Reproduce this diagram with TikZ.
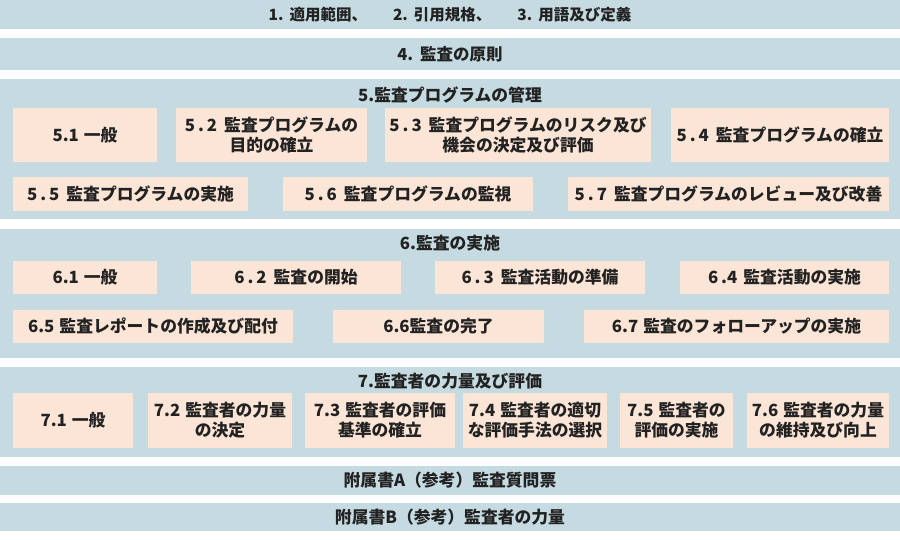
\documentclass[tikz,border=0pt]{standalone}
\usepackage{fontspec}
\setmainfont{Noto Sans CJK JP}
\definecolor{bandblue}{RGB}{197,218,225}
\definecolor{peach}{RGB}{251,229,214}
\definecolor{ink}{RGB}{34,34,34}
\newcommand{\spn}[2]{#1\kern3pt.\kern3pt#2\kern7pt}
\newcommand{\nmn}[2]{#1.#2\kern5pt}
\tikzset{
  band/.style={fill=bandblue, draw=none, inner sep=0pt, minimum width=900pt},
  sub/.style={fill=peach, draw=none, inner sep=0pt, align=center, text=ink,
    font=\fontsize{16.8}{20}\selectfont\bfseries},
  ttl/.style={inner sep=0pt, text=ink, font=\fontsize{16.8}{20}\selectfont\bfseries},
  top/.style={inner sep=0pt, text=ink, font=\fontsize{15.5}{18}\selectfont\bfseries}
}
\begin{document}
\begin{tikzpicture}[x=1pt,y=-1pt]
\useasboundingbox[fill=white] (0,0) rectangle (900,540);
% bands
\node[band, minimum height=29pt] (b1) at (450,14.5) {};
\node[band, minimum height=32pt] (b2) at (450,54) {};
\node[band, minimum height=140pt] (b5) at (450,149) {};
\node[band, minimum height=129pt] (b6) at (450,293.5) {};
\node[band, minimum height=90pt] (b7) at (450,412) {};
\node[band, minimum height=29pt] (bA) at (450,480.5) {};
\node[band, minimum height=28pt] (bB) at (450,517) {};
% band titles
\node[top] (t1) at (450,14.5) {1.\kern6pt適用範囲、\kern26pt 2.\kern6pt引用規格、\kern26pt 3.\kern6pt用語及び定義};
\node[top, font=\fontsize{16.5}{18}\selectfont\bfseries] (t4) at (450,54) {4.\kern7pt監査の原則};
\node[ttl] (t5) at (450,95) {5.監査プログラムの管理};
\node[ttl] (t6) at (450,243) {6.監査の実施};
\node[ttl] (t7) at (450,381) {7.監査者の力量及び評価};
\node[ttl] (tA) at (450,480.5) {附属書A（参考）監査質問票};
\node[ttl] (tB) at (450,517) {附属書B（参考）監査者の力量};
% section 5
\node[sub, minimum width=144pt, minimum height=54pt] (s51) at (85,135) {\nmn{5}{1}一般};
\node[sub, minimum width=191pt, minimum height=54pt] (s52) at (271.5,135) {\spn{5}{2}監査プログラムの\\目的の確立};
\node[sub, minimum width=266pt, minimum height=54pt] (s53) at (518,135) {\spn{5}{3}監査プログラムのリスク及び\\機会の決定及び評価};
\node[sub, minimum width=218pt, minimum height=54pt] (s54) at (780,135) {\spn{5}{4}監査プログラムの確立};
\node[sub, minimum width=235pt, minimum height=34pt] (s55) at (130.5,194) {\spn{5}{5}監査プログラムの実施};
\node[sub, minimum width=250pt, minimum height=34pt] (s56) at (408,194) {\spn{5}{6}監査プログラムの監視};
\node[sub, minimum width=321pt, minimum height=34pt] (s57) at (728.5,194) {\spn{5}{7}監査プログラムのレビュー及び改善};
% section 6
\node[sub, minimum width=144pt, minimum height=33pt] (s61) at (85,277.5) {\nmn{6}{1}一般};
\node[sub, minimum width=210pt, minimum height=33pt] (s62) at (296,277.5) {\spn{6}{2}監査の開始};
\node[sub, minimum width=210pt, minimum height=33pt] (s63) at (540,277.5) {\spn{6}{3}監査活動の準備};
\node[sub, minimum width=209pt, minimum height=33pt] (s64) at (784.5,277.5) {6\kern3pt.4\kern6pt監査活動の実施};
\node[sub, minimum width=280pt, minimum height=33pt] (s65) at (153,326.5) {\nmn{6}{5}監査レポートの作成及び配付};
\node[sub, minimum width=211pt, minimum height=33pt] (s66) at (438.5,326.5) {6.6監査の完了};
\node[sub, minimum width=305pt, minimum height=33pt] (s67) at (736.5,326.5) {\nmn{6}{7}監査のフォローアップの実施};
% section 7
\node[sub, minimum width=120pt, minimum height=55pt] (s71) at (73,420.5) {\nmn{7}{1}一般};
\node[sub, minimum width=144pt, minimum height=55pt] (s72) at (220,420.5) {\nmn{7}{2}監査者の力量\\の決定};
\node[sub, minimum width=150pt, minimum height=55pt] (s73) at (380,420.5) {\nmn{7}{3}監査者の評価\\基準の確立};
\node[sub, minimum width=144pt, minimum height=55pt] (s74) at (535,420.5) {\nmn{7}{4}監査者の適切\\な評価手法の選択};
\node[sub, minimum width=113pt, minimum height=55pt] (s75) at (676.5,420.5) {\nmn{7}{5}監査者の\\評価の実施};
\node[sub, minimum width=142pt, minimum height=55pt] (s76) at (818,420.5) {\nmn{7}{6}監査者の力量\\の維持及び向上};
\end{tikzpicture}
\end{document}
